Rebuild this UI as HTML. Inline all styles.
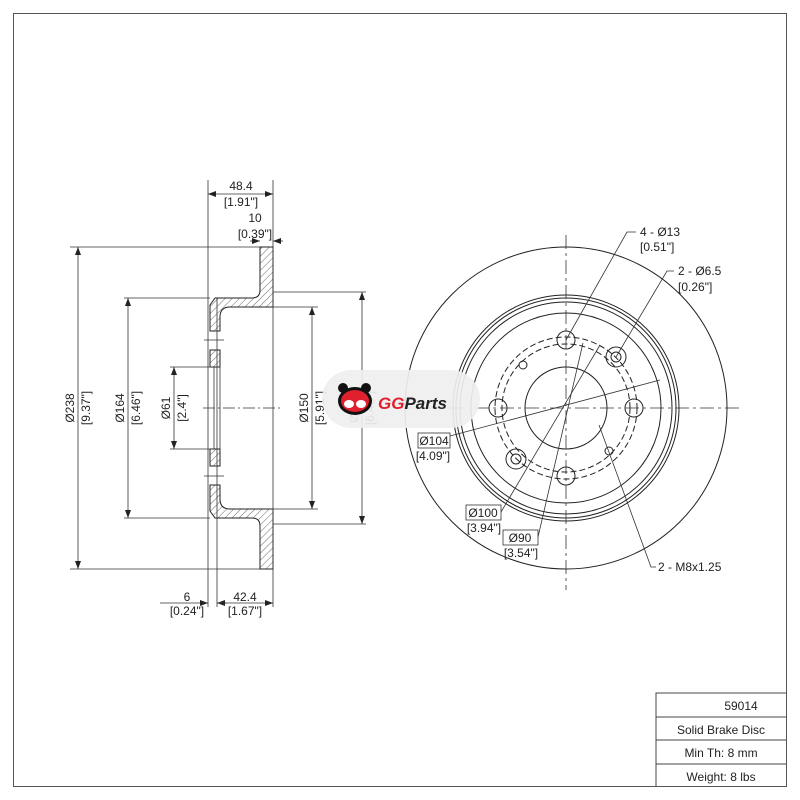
<!DOCTYPE html>
<html><head><style>
body{margin:0;background:#fff}
svg{display:block}
text{font-family:"Liberation Sans",sans-serif;font-size:12px;fill:#222}
</style></head><body>
<svg width="800" height="800" viewBox="0 0 800 800">
<defs>
<pattern id="h" width="5" height="5" patternUnits="userSpaceOnUse" patternTransform="rotate(45)">
<line x1="0" y1="0" x2="0" y2="5" stroke="#444" stroke-width="0.8"/></pattern>
<marker id="a" markerWidth="8" markerHeight="6" refX="8" refY="3" orient="auto-start-reverse" markerUnits="userSpaceOnUse"><path d="M0,0 L8,3 L0,6 Z" fill="#222"/></marker>
</defs>
<rect x="13.5" y="13.5" width="773" height="773" fill="none" stroke="#555" stroke-width="1"/>
<g stroke="#444" fill="none" stroke-width="1">
<path d="M656,786 V693 H786 M656,717 H786 M656,740 H786 M656,764 H786"/>
</g>
<text x="741" y="710" text-anchor="middle">59014</text>
<text x="721" y="734" text-anchor="middle">Solid Brake Disc</text>
<text x="721" y="757" text-anchor="middle">Min Th: 8 mm</text>
<text x="721" y="781" text-anchor="middle">Weight: 8 lbs</text>

<g stroke="#222" stroke-width="1" fill="url(#h)">
<path d="M260,247 H273 V307 H230 Q220,307 220,317 V331 H210 V305 L215,298 H252 Q260,298 260,290 Z"/>
<path d="M260,569 H273 V509 H230 Q220,509 220,499 V485 H210 V511 L215,518 H252 Q260,518 260,526 Z"/>
<rect x="210" y="350" width="10" height="17"/>
<rect x="210" y="449" width="10" height="17"/>
</g>
<g stroke="#333" stroke-width="0.8" fill="none">
<line x1="208" y1="180" x2="208" y2="607"/>
<line x1="217" y1="298" x2="217" y2="607"/>
<line x1="273" y1="180" x2="273" y2="607"/>
<line x1="220" y1="367" x2="220" y2="449"/>
<line x1="214" y1="367" x2="214" y2="449"/>
<line x1="204" y1="340" x2="224" y2="340"/>
<line x1="204" y1="476" x2="224" y2="476"/>
<line x1="70" y1="247" x2="260" y2="247"/>
<line x1="70" y1="569" x2="260" y2="569"/>
<line x1="124" y1="298" x2="210" y2="298"/>
<line x1="124" y1="518" x2="210" y2="518"/>
<line x1="170" y1="367" x2="212" y2="367"/>
<line x1="170" y1="449" x2="212" y2="449"/>
<line x1="273" y1="307" x2="318" y2="307"/>
<line x1="273" y1="509" x2="318" y2="509"/>
<line x1="273" y1="292" x2="366" y2="292"/>
<line x1="273" y1="524" x2="366" y2="524"/>
<line x1="78" y1="247" x2="78" y2="569" marker-start="url(#a)" marker-end="url(#a)"/>
<line x1="128" y1="298" x2="128" y2="518" marker-start="url(#a)" marker-end="url(#a)"/>
<line x1="174" y1="367" x2="174" y2="449" marker-start="url(#a)" marker-end="url(#a)"/>
<line x1="312" y1="307" x2="312" y2="509" marker-start="url(#a)" marker-end="url(#a)"/>
<line x1="362" y1="292" x2="362" y2="524" marker-start="url(#a)" marker-end="url(#a)"/>
<line x1="208" y1="194" x2="273" y2="194" marker-start="url(#a)" marker-end="url(#a)"/>
<line x1="250" y1="241" x2="260" y2="241" marker-end="url(#a)"/>
<line x1="283" y1="241" x2="273" y2="241" marker-end="url(#a)"/>
<line x1="160" y1="603" x2="208" y2="603" marker-end="url(#a)"/>
<line x1="227" y1="603" x2="217" y2="603" marker-end="url(#a)"/>
<line x1="217" y1="603" x2="273" y2="603" marker-end="url(#a)"/>
<line x1="203" y1="408" x2="282" y2="408" stroke-dasharray="12,3,2,3"/>
</g>
<text x="241" y="190" text-anchor="middle">48.4</text>
<text x="241" y="206" text-anchor="middle">[1.91"]</text>
<text x="255" y="222" text-anchor="middle">10</text>
<text x="255" y="238" text-anchor="middle">[0.39"]</text>
<text x="187" y="601" text-anchor="middle">6</text>
<text x="187" y="615" text-anchor="middle">[0.24"]</text>
<text x="245" y="601" text-anchor="middle">42.4</text>
<text x="245" y="615" text-anchor="middle">[1.67"]</text>
<g text-anchor="middle">
<text transform="translate(74,408) rotate(-90)">Ø238</text>
<text transform="translate(90,408) rotate(-90)">[9.37"]</text>
<text transform="translate(124,408) rotate(-90)">Ø164</text>
<text transform="translate(140,408) rotate(-90)">[6.46"]</text>
<text transform="translate(170,408) rotate(-90)">Ø61</text>
<text transform="translate(186,408) rotate(-90)">[2.4"]</text>
<text transform="translate(308,408) rotate(-90)">Ø150</text>
<text transform="translate(324,408) rotate(-90)">[5.91"]</text>
<text transform="translate(358,408) rotate(-90)">Ø164</text>
<text transform="translate(374,408) rotate(-90)">[6.46"]</text>
</g>

<g stroke="#222" stroke-width="1" fill="none">
<circle cx="566" cy="408" r="161"/>
<circle cx="566" cy="408" r="113"/>
<circle cx="566" cy="408" r="110"/>
<circle cx="566" cy="408" r="106"/>
<circle cx="566" cy="408" r="95"/>
<circle cx="566" cy="408" r="41"/>
<circle cx="566" cy="408" r="71" stroke-dasharray="6,3"/>
<circle cx="566" cy="408" r="64" stroke-dasharray="6,3"/>
<circle cx="566" cy="340" r="9"/><circle cx="498" cy="408" r="9"/><circle cx="634" cy="408" r="9"/><circle cx="566" cy="476" r="9"/>
<circle cx="616" cy="357" r="10"/><circle cx="616" cy="357" r="5"/>
<circle cx="516" cy="459" r="10"/><circle cx="516" cy="459" r="5"/>
<circle cx="523" cy="365" r="4"/><circle cx="609" cy="451" r="4"/>
</g>
<g stroke="#333" stroke-width="0.8" fill="none">
<line x1="400" y1="408" x2="740" y2="408" stroke-dasharray="14,4,3,4"/>
<line x1="566" y1="235" x2="566" y2="590" stroke-dasharray="14,4,3,4"/>
<path d="M636,232 H627 L566,340"/>
<path d="M674,271 L667,271 L616,357"/>
<path d="M450,436 L660,380"/>
<path d="M501,512 L600,345"/>
<path d="M538,537 L583,343"/>
<path d="M656,567 L651,567 L599,425"/>
</g>
<text x="640" y="236">4 - Ø13</text>
<text x="640" y="251">[0.51"]</text>
<text x="678" y="275">2 - Ø6.5</text>
<text x="678" y="291">[0.26"]</text>
<text x="658" y="571">2 - M8x1.25</text>
<g fill="#fff" stroke="#333" stroke-width="0.8">
<rect x="418" y="433" width="32" height="15"/>
<rect x="466" y="505" width="35" height="15"/>
<rect x="503" y="530" width="35" height="15"/>
</g>
<text x="434" y="445" text-anchor="middle">Ø104</text>
<text x="433" y="460" text-anchor="middle">[4.09"]</text>
<text x="483" y="517" text-anchor="middle">Ø100</text>
<text x="484" y="532" text-anchor="middle">[3.94"]</text>
<text x="520" y="542" text-anchor="middle">Ø90</text>
<text x="521" y="557" text-anchor="middle">[3.54"]</text>

<rect x="322" y="370" width="158" height="58" rx="29" fill="#efefef" opacity="0.92"/>
<g>
<ellipse cx="355" cy="401" rx="17" ry="14" fill="#111"/>
<circle cx="343" cy="388" r="5" fill="#111"/><circle cx="366" cy="388" r="5" fill="#111"/>
<ellipse cx="355" cy="401" rx="14" ry="11" fill="#e0202e"/>
<ellipse cx="349" cy="404" rx="5" ry="4" fill="#fff"/><ellipse cx="361" cy="404" rx="5" ry="4" fill="#fff"/>
</g>
<text x="378" y="409" font-weight="bold" font-style="italic" style="font-size:17px"><tspan fill="#e0202e">GG</tspan><tspan fill="#222">Parts</tspan></text>
</svg>
</body></html>
